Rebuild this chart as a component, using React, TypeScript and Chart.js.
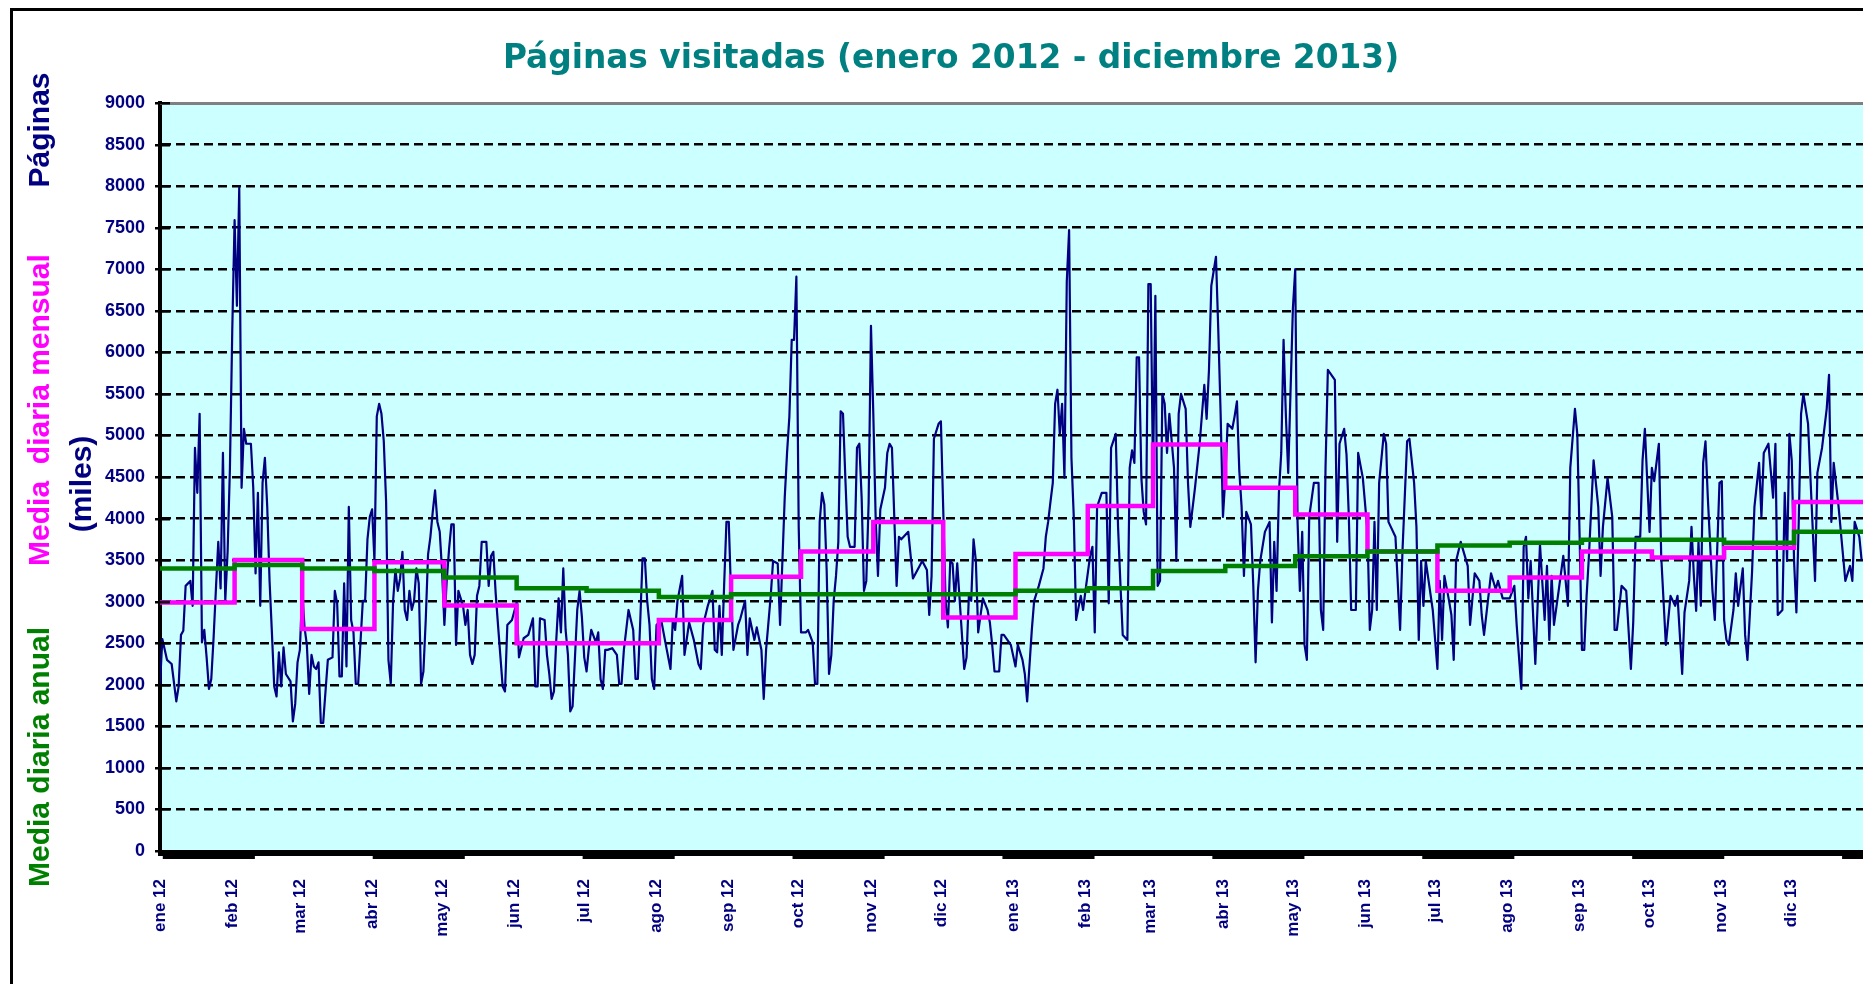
import React, { useEffect, useRef } from 'react';
import { Chart, registerables } from 'chart.js';

Chart.register(...registerables);

// ---------- data ----------
const chartTitle = 'Páginas visitadas (enero 2012 - diciembre 2013)';

const monthLabels = [
  'ene 12', 'feb 12', 'mar 12', 'abr 12', 'may 12', 'jun 12', 'jul 12', 'ago 12', 'sep 12', 'oct 12', 'nov 12', 'dic 12',
  'ene 13', 'feb 13', 'mar 13', 'abr 13', 'may 13', 'jun 13', 'jul 13', 'ago 13', 'sep 13', 'oct 13', 'nov 13', 'dic 13',
];
// day index (0 = 1 Jan 2012) at which each month starts
const monthStartDays = [0, 31, 60, 91, 121, 152, 182, 213, 244, 274, 305, 335, 366, 397, 425, 456, 486, 517, 547, 578, 609, 639, 670, 700];
const periodEndDay = 731;

// "Media diaria mensual" (magenta)
const monthlyAvg = [2990, 3500, 2670, 3475, 2955, 2500, 2500, 2780, 3300, 3605, 3960, 2810, 3575, 4150, 4890, 4370, 4050, 3605, 3130, 3290, 3605, 3530, 3650, 4200];
// "Media diaria anual" (green)
const annualAvg = [3400, 3440, 3400, 3370, 3290, 3160, 3130, 3055, 3090, 3090, 3090, 3090, 3130, 3160, 3370, 3430, 3545, 3605, 3675, 3710, 3745, 3745, 3710, 3840];

// daily pages [day index, pages]
const visits2012H1: [number, number][] = [
  [0, 2000], [1, 2550], [3, 2300], [5, 2250], [7, 1800], [8, 1980], [9, 2600], [10, 2650], [11, 3190], [13, 3250], [14, 2950], [15, 4850], [16, 4310], [17, 5260], [18, 2510], [19, 2660], [20, 2330], [21, 1950], [22, 2070], [23, 2570], [24, 3160], [25, 3720], [26, 3160], [27, 4790], [28, 3010], [29, 3600], [30, 4610], [31, 6260], [32, 7590], [33, 6560], [34, 7980], [35, 4370], [36, 5080], [37, 4900], [38, 4900], [39, 4900], [40, 4370], [41, 3340], [42, 4310], [43, 2950], [44, 4430], [45, 4730], [46, 4140], [47, 3250], [48, 2630], [49, 1980], [50, 1860], [51, 2390], [52, 1980], [53, 2450], [54, 2130], [56, 2040], [57, 1560], [58, 1770], [59, 2270], [60, 2420], [61, 3130], [62, 2690], [63, 2480], [64, 1890], [65, 2360], [66, 2220], [67, 2190], [68, 2270], [69, 1540], [70, 1540], [72, 2300], [74, 2330], [75, 3130], [76, 2980], [77, 2100], [78, 2100], [79, 3220], [80, 2220], [81, 4140], [82, 2780], [83, 2630], [84, 2010], [85, 2010], [87, 3010], [88, 3010], [89, 3750], [90, 4020],
  [91, 4110], [92, 3490], [93, 5230], [94, 5380], [95, 5260], [96, 4930], [97, 4200], [98, 2300], [99, 2010], [100, 3010], [101, 3390], [102, 3130], [103, 3280], [104, 3600], [105, 2900], [106, 2780], [107, 3130], [108, 2900], [109, 3010], [110, 3400], [111, 3220], [112, 2010], [113, 2160], [114, 2780], [115, 3570], [116, 3780], [117, 4080], [118, 4340], [119, 3960], [120, 3840], [121, 3370], [122, 2720], [123, 3250], [124, 3630], [125, 3930], [126, 3930], [127, 2480], [128, 3130], [130, 2950], [131, 2720], [132, 2900], [133, 2360], [134, 2250], [135, 2360], [136, 3070], [137, 3190], [138, 3720], [140, 3720], [141, 3190], [142, 3550], [143, 3600], [144, 3100], [145, 2720], [147, 1980], [148, 1920], [149, 2720], [151, 2780], [153, 2990], [154, 2330], [156, 2560], [158, 2600], [160, 2800], [161, 1980], [162, 1980], [163, 2800], [165, 2780], [166, 2360], [167, 2130], [168, 1830], [169, 1920], [170, 2540], [171, 3040], [172, 2630], [173, 3400], [174, 2660], [175, 2360], [176, 1680], [177, 1740], [178, 2320], [179, 2900], [180, 3130], [181, 2810],
];
const visits2012H2: [number, number][] = [
  [182, 2330], [183, 2160], [184, 2450], [185, 2660], [187, 2510], [188, 2630], [189, 2070], [190, 1950], [191, 2420], [192, 2420], [194, 2440], [196, 2360], [197, 2010], [198, 2010], [199, 2420], [200, 2660], [201, 2900], [203, 2660], [204, 2070], [205, 2070], [206, 2750], [207, 3520], [208, 3520], [209, 3010], [210, 2720], [211, 2070], [212, 1950], [213, 2720], [215, 2780], [217, 2480], [219, 2190], [220, 2780], [221, 2660], [222, 3010], [224, 3310], [225, 2360], [227, 2750], [229, 2540], [231, 2250], [232, 2190], [233, 2720], [235, 2950], [237, 3130], [238, 2420], [239, 2390], [240, 2950], [241, 2360], [242, 3190], [243, 3960], [244, 3960], [245, 3070], [246, 2420], [248, 2720], [249, 2800], [251, 3010], [252, 2360], [253, 2800], [255, 2540], [256, 2690], [258, 2420], [259, 1830], [260, 2420], [262, 3070], [263, 3490], [265, 3460], [266, 2720], [268, 4250], [269, 4790], [270, 5230], [271, 6150], [272, 6150], [273, 6910], [274, 3900],
  [275, 2630], [277, 2630], [278, 2660], [280, 2510], [281, 2010], [282, 2010], [283, 3960], [284, 4310], [285, 4170], [286, 3370], [287, 2130], [288, 2360], [289, 3010], [290, 3310], [291, 3720], [292, 5290], [293, 5260], [294, 4490], [295, 3780], [296, 3660], [298, 3660], [299, 4850], [300, 4900], [301, 4250], [302, 3130], [303, 3250], [304, 4200], [305, 6320], [306, 5260], [307, 4020], [308, 3310], [309, 4110], [311, 4370], [312, 4790], [313, 4900], [314, 4850], [316, 3190], [317, 3780], [318, 3750], [321, 3840], [323, 3280], [327, 3490], [329, 3380], [330, 2840], [331, 3310], [332, 4960], [334, 5140], [335, 5170], [336, 4110], [337, 3010], [338, 2690], [339, 3490], [340, 3460], [341, 3010], [342, 3460], [343, 3040], [345, 2190], [346, 2330], [347, 3070], [348, 3010], [349, 3750], [350, 3490], [351, 2630], [353, 3040], [355, 2900], [356, 2750], [357, 2480], [358, 2160], [360, 2160], [361, 2600], [362, 2600], [365, 2480],
];
const visits2013H1: [number, number][] = [
  [367, 2220], [368, 2480], [370, 2300], [371, 2130], [372, 1800], [374, 2660], [375, 3010], [377, 3190], [379, 3400], [380, 3780], [381, 3960], [382, 4200], [383, 4430], [384, 5380], [385, 5550], [386, 5020], [387, 5380], [388, 4490], [389, 6850], [390, 7470], [391, 4730], [392, 4020], [393, 2780], [395, 3070], [396, 2900], [397, 3130], [399, 3550], [400, 3660], [401, 2630], [402, 4140], [404, 4310], [406, 4310], [407, 2980], [408, 4850], [410, 5020], [411, 3900], [412, 3220], [413, 2600], [415, 2540], [416, 4610], [417, 4820], [418, 4670], [419, 5940], [420, 5940], [421, 4490], [422, 4080], [423, 3930], [424, 6820], [425, 6820], [426, 4490], [427, 6680], [428, 3190], [429, 3250], [430, 5500], [431, 5380], [432, 4790], [433, 5260], [435, 4610], [436, 3490], [437, 5260], [438, 5500], [440, 5320], [441, 4430], [442, 3900], [444, 4370], [446, 4900], [448, 5610], [449, 5200], [450, 5790], [451, 6800], [453, 7150], [454, 6260], [455, 5260],
  [456, 4020], [457, 4490], [458, 5140], [460, 5080], [461, 5230], [462, 5410], [463, 4580], [464, 4140], [465, 3310], [466, 4080], [468, 3930], [469, 3200], [470, 2270], [471, 3130], [472, 3490], [474, 3840], [476, 3960], [477, 2750], [478, 3720], [479, 3130], [480, 4310], [481, 4790], [482, 6150], [483, 5230], [484, 4550], [486, 6530], [487, 7000], [488, 3960], [489, 3130], [490, 3840], [491, 2480], [492, 2300], [493, 4020], [495, 4430], [497, 4430], [498, 2900], [499, 2660], [500, 4610], [501, 5790], [504, 5670], [505, 3720], [506, 4900], [508, 5080], [509, 4770], [510, 4020], [511, 2900], [513, 2900], [514, 4790], [516, 4490], [518, 3840], [519, 2660], [520, 2900], [521, 3960], [522, 2900], [523, 4430], [525, 5020], [526, 4900], [527, 3960], [530, 3780], [532, 2660], [533, 3600], [535, 4930], [536, 4960], [538, 4430], [539, 3900], [540, 2540], [541, 3490], [542, 2950], [543, 3490], [546, 2900],
];
const visits2013H2: [number, number][] = [
  [548, 2190], [549, 3250], [550, 2540], [551, 3310], [553, 3010], [554, 2840], [555, 2300], [556, 3490], [558, 3720], [561, 3430], [562, 2720], [564, 3340], [566, 3250], [567, 2840], [568, 2600], [571, 3340], [573, 3150], [574, 3250], [576, 3040], [579, 3040], [581, 3190], [582, 2720], [584, 1950], [585, 3660], [586, 3780], [587, 3040], [588, 3490], [590, 2250], [592, 3690], [594, 2780], [595, 3430], [596, 2540], [597, 3310], [598, 2720], [600, 3130], [602, 3550], [604, 2950], [605, 4610], [607, 5320], [608, 5020], [609, 3780], [610, 2420], [611, 2420], [612, 3070], [613, 3550], [614, 4140], [615, 4700], [617, 4140], [618, 3310], [619, 3900], [621, 4490], [623, 4020], [624, 2660], [625, 2660], [627, 3190], [629, 3130], [631, 2190], [632, 2750], [633, 3780], [635, 3780], [636, 4700], [637, 5080],
  [639, 3840], [640, 4610], [641, 4450], [643, 4900], [644, 3550], [646, 2480], [648, 3070], [650, 2950], [651, 3070], [653, 2130], [654, 2870], [656, 3250], [657, 3900], [658, 3320], [659, 2890], [660, 3720], [661, 2950], [662, 4670], [663, 4930], [664, 4250], [666, 3130], [667, 2780], [669, 4430], [670, 4450], [671, 2780], [672, 2540], [673, 2480], [675, 2900], [676, 3340], [677, 2950], [679, 3400], [680, 2600], [681, 2300], [683, 3370], [684, 4140], [686, 4670], [687, 4020], [688, 4790], [690, 4900], [692, 4250], [693, 4900], [694, 2840], [696, 2900], [697, 4310], [698, 3490], [699, 5020], [700, 4700], [701, 3490], [702, 2870], [703, 3960], [704, 5260], [705, 5500], [706, 5320], [707, 5140], [710, 3250], [711, 4550], [713, 4850], [715, 5320], [716, 5730], [717, 3960], [718, 4670], [720, 4170], [723, 3250], [725, 3430], [726, 3250], [727, 3960], [729, 3780], [730, 3490],
];

// ---------- style ----------
const NAVY = '#000080';
const MAGENTA = '#ff00ff';
const GREEN = '#008000';
const TEAL = '#008080';
const PLOT_BG = '#ccffff';
const SIDE_FONT = 'bold 30px "Liberation Sans", Arial, sans-serif';
const STEP_LAG = 1; // monthly steps drawn one day after month start, as in the source

function stepSeries(values: number[]) {
  const pts = monthStartDays.map((d, i) => ({ x: i === 0 ? 0 : d + STEP_LAG, y: values[i] }));
  pts.push({ x: periodEndDay, y: values[values.length - 1] });
  return pts;
}

function vText(ctx: CanvasRenderingContext2D, text: string, x: number, y: number, color: string) {
  ctx.save();
  ctx.translate(x, y);
  ctx.rotate(-Math.PI / 2);
  ctx.fillStyle = color;
  ctx.font = SIDE_FONT;
  ctx.textAlign = 'center';
  ctx.textBaseline = 'alphabetic';
  ctx.fillText(text, 0, 0);
  ctx.restore();
}

const decorPlugin = {
  id: 'decor',
  beforeDraw(chart: any) {
    const { ctx, chartArea: a } = chart;
    ctx.save();
    ctx.fillStyle = '#ffffff';
    ctx.fillRect(0, 0, chart.width, chart.height);
    ctx.fillStyle = PLOT_BG;
    ctx.fillRect(a.left, a.top, a.right - a.left, a.bottom - a.top);
    ctx.restore();
  },
  afterDraw(chart: any) {
    const { ctx, chartArea: a, scales } = chart;
    const xs = scales.x;
    const ys = scales.y;
    ctx.save();
    // top border of the plot area
    ctx.strokeStyle = '#808080';
    ctx.lineWidth = 3;
    ctx.beginPath();
    ctx.moveTo(a.left, a.top + 0.5);
    ctx.lineTo(a.right, a.top + 0.5);
    ctx.stroke();
    // y tick marks crossing the axis
    ctx.strokeStyle = '#000';
    ctx.lineWidth = 2.5;
    for (const t of ys.ticks) {
      const y = Math.round(ys.getPixelForValue(t.value)) + 0.25;
      ctx.beginPath();
      ctx.moveTo(a.left - 5, y);
      ctx.lineTo(a.left + 10, y);
      ctx.stroke();
    }
    // thick category axis band
    ctx.fillStyle = '#000';
    ctx.fillRect(a.left - 2, a.bottom - 1, a.right - a.left + 2, 6);
    for (let s = 1.2; s < periodEndDay; s += 90.05) {
      const x0 = xs.getPixelForValue(s);
      const x1 = xs.getPixelForValue(Math.min(s + 39.5, periodEndDay));
      ctx.fillRect(x0, a.bottom + 5, x1 - x0, 3);
    }
    // title
    ctx.fillStyle = TEAL;
    ctx.font = 'bold 32.8px "DejaVu Sans", Verdana, sans-serif';
    ctx.textAlign = 'center';
    ctx.textBaseline = 'alphabetic';
    ctx.fillText(chartTitle, 951, 68);
    // side titles
    vText(ctx, 'Páginas', 49, 130, NAVY);
    vText(ctx, 'Media  diaria mensual', 49, 410, MAGENTA);
    vText(ctx, '(miles)', 91, 484, NAVY);
    vText(ctx, 'Media diaria anual', 49, 757, GREEN);
    // outer frame
    ctx.strokeStyle = '#000';
    ctx.lineWidth = 3;
    ctx.strokeRect(11.5, 9.5, chart.width + 200, chart.height + 200);
    ctx.restore();
  },
};

export default function App() {
  const canvasRef = useRef<HTMLCanvasElement | null>(null);

  useEffect(() => {
    const canvas = canvasRef.current;
    if (!canvas) return;
    const daily = [...visits2012H1, ...visits2012H2, ...visits2013H1, ...visits2013H2].map(([d, v]) => ({ x: d, y: v }));

    const chart = new Chart(canvas, {
      type: 'line',
      data: {
        datasets: [
          {
            label: 'Media diaria anual',
            data: stepSeries(annualAvg),
            borderColor: GREEN,
            borderWidth: 4.5,
            stepped: true,
            pointRadius: 0,
            fill: false,
          },
          {
            label: 'Media diaria mensual',
            data: stepSeries(monthlyAvg),
            borderColor: MAGENTA,
            borderWidth: 4.5,
            stepped: true,
            pointRadius: 0,
            fill: false,
          },
          {
            label: 'Páginas',
            data: daily,
            borderColor: NAVY,
            borderWidth: 2.2,
            borderJoinStyle: 'round',
            tension: 0,
            pointRadius: 0,
            fill: false,
          },
        ],
      },
      options: {
        animation: false,
        responsive: false,
        devicePixelRatio: 1,
        events: [],
        layout: { padding: { left: 0, top: 103, right: 36, bottom: 0 } },
        plugins: { legend: { display: false }, tooltip: { enabled: false }, title: { display: false } },
        scales: {
          x: {
            type: 'linear',
            min: 0,
            max: periodEndDay,
            grid: { display: false, drawTicks: false },
            border: { display: false },
            afterBuildTicks: (scale: any) => {
              scale.ticks = monthStartDays.map((d) => ({ value: d }));
            },
            afterFit: (scale: any) => {
              scale.height = 133;
            },
            ticks: {
              autoSkip: false,
              minRotation: 90,
              maxRotation: 90,
              padding: 28,
              color: NAVY,
              font: { family: '"Liberation Sans", Arial, sans-serif', size: 17, weight: 'bold' },
              callback: (_v: any, i: number) => monthLabels[i],
            },
          },
          y: {
            type: 'linear',
            min: 0,
            max: 9000,
            afterFit: (scale: any) => {
              scale.width = 160;
            },
            grid: {
              drawTicks: false,
              lineWidth: 2.5,
              color: (c: any) => (c.tick && (c.tick.value === 0 || c.tick.value === 9000) ? 'rgba(0,0,0,0)' : '#000'),
            },
            border: { display: true, color: '#000', width: 4, dash: [9, 5] },
            ticks: {
              stepSize: 500,
              padding: 15,
              color: NAVY,
              font: { family: '"Liberation Sans", Arial, sans-serif', size: 18, weight: 'bold' },
              callback: (v: any) => String(v),
            },
          },
        },
      },
      plugins: [decorPlugin],
    });
    return () => chart.destroy();
  }, []);

  return (
    <div style={{ position: 'absolute', left: 0, top: 0, width: '100vw', height: '100vh', overflow: 'hidden', background: '#fff' }}>
      <canvas ref={canvasRef} width={1900} height={984} style={{ display: 'block', width: 1900, height: 984 }} />
    </div>
  );
}
